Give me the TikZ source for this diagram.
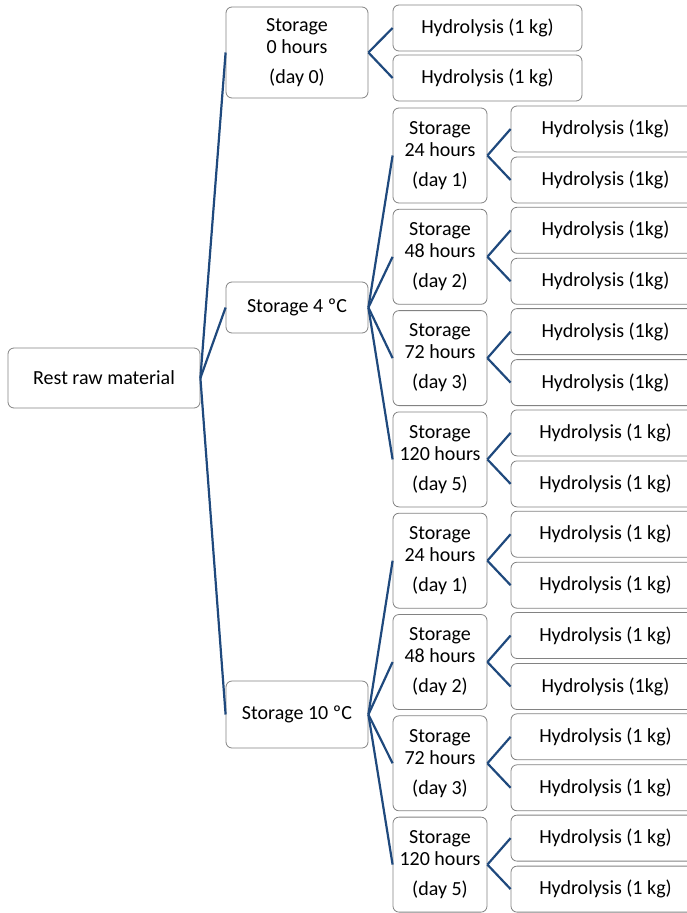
\documentclass[tikz,border=0pt]{standalone}
\usepackage{fontspec}
\setmainfont{Carlito}
\usetikzlibrary{positioning}
\definecolor{linkblue}{RGB}{31,73,125}
\definecolor{boxgray}{RGB}{130,130,130}

\begin{document}
\begin{tikzpicture}[x=1pt, y=-1pt,
  box/.style={draw=boxgray, line width=0.8pt, rounded corners=6pt, align=center,
    inner sep=0pt, font=\fontsize{20}{22}\selectfont},
  link/.style={draw=linkblue, line width=2.2pt}]
\useasboundingbox (0,0) rectangle (687,913);

% Root and temperature levels
\node[box, minimum width=192pt, minimum height=60pt] (root) at (104,378) {Rest raw material};
\node[box, minimum width=142pt, minimum height=91pt] (s0) at (297,52.5) {Storage\\0 hours\\[8pt](day 0)};
\node[box, minimum width=142pt, minimum height=51pt] (s4) at (297,307.5) {Storage 4 ºC};
\node[box, minimum width=142pt, minimum height=67pt] (s10) at (297,714.5) {Storage 10 ºC};

\draw[link] (root.east) -- (s0.west);
\draw[link] (root.east) -- (s4.west);
\draw[link] (root.east) -- (s10.west);

% Day 0 hydrolysis
\node[box, minimum width=189pt, minimum height=46pt] (h0a) at (487.5,28) {Hydrolysis (1 kg)};
\node[box, minimum width=189pt, minimum height=46pt] (h0b) at (487.5,78) {Hydrolysis (1 kg)};
\draw[link] (s0.east) -- (h0a.west);
\draw[link] (s0.east) -- (h0b.west);

% Storage times and hydrolysis
\foreach \k/\hrs/\dy/\ha/\hb/\src in {0/24/1/1kg/1kg/s4, 1/48/2/1kg/1kg/s4, 2/72/3/1kg/1kg/s4,
    3/120/5/1 kg/1 kg/s4, 4/24/1/1 kg/1 kg/s10, 5/48/2/1 kg/1kg/s10,
    6/72/3/1 kg/1 kg/s10, 7/120/5/1 kg/1 kg/s10} {
  \node[box, minimum width=94pt, minimum height=95pt] (t\k) at (440,155.5+101.3*\k)
    {Storage\\\hrs{} hours\\[8pt](day \dy)};
  \node[box, minimum width=189pt, minimum height=46pt] (ha\k) at (605.5,129+101.3*\k) {Hydrolysis (\ha)};
  \node[box, minimum width=189pt, minimum height=46pt] (hb\k) at (605.5,180+101.3*\k) {Hydrolysis (\hb)};
  \draw[link] (\src.east) -- (t\k.west);
  \draw[link] (t\k.east) -- (ha\k.west);
  \draw[link] (t\k.east) -- (hb\k.west);
}
\end{tikzpicture}
\end{document}
